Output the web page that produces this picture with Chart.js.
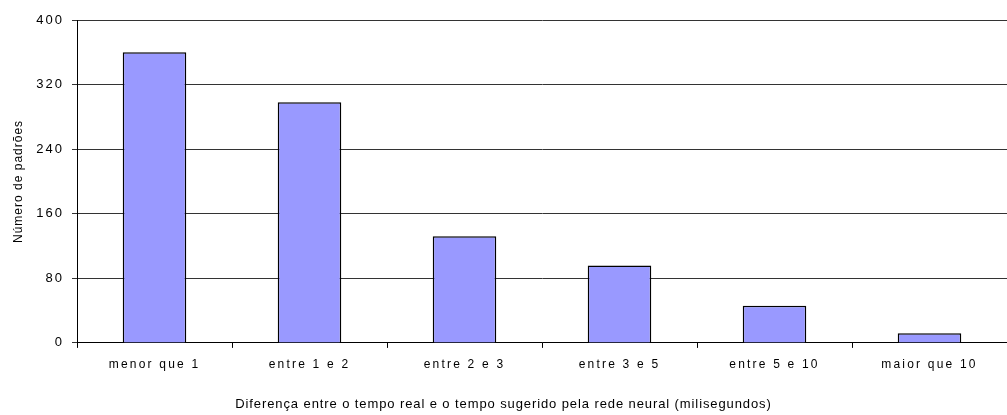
<!DOCTYPE html>
<html>
<head>
<meta charset="utf-8">
<script src="https://cdn.jsdelivr.net/npm/chart.js@4/dist/chart.umd.min.js"></script>
<style>
  html, body { margin: 0; padding: 0; background: #fff; }
  #wrap { width: 1007px; height: 415px; position: relative; }
</style>
</head>
<body>
<div id="wrap"><canvas id="c"></canvas></div>
<script>
const categories = ['menor que 1', 'entre 1 e 2', 'entre 2 e 3', 'entre 3 e 5', 'entre 5 e 10', 'maior que 10'];
const counts = [360, 298, 132, 96, 46, 12];
const yTicks = [0, 80, 160, 240, 320, 400];
const xTitle = 'Diferença entre o tempo real e o tempo sugerido pela rede neural (milisegundos)';
const yTitle = 'Número de padrões';

// letter spacing per text kind (the original rendering is widely spaced)
function spacingFor(t) {
  const s = String(t);
  if (categories.includes(s)) return '2.2px';
  if (s === xTitle) return '0.9px';
  if (s === yTitle) return '1px';
  if (yTicks.map(String).includes(s)) return '2px';
  return '0px';
}
const origFill = CanvasRenderingContext2D.prototype.fillText;
const origMeasure = CanvasRenderingContext2D.prototype.measureText;
CanvasRenderingContext2D.prototype.fillText = function (t, x, y, m) {
  const prev = this.letterSpacing;
  this.letterSpacing = spacingFor(t);
  if (m === undefined) origFill.call(this, t, x, y); else origFill.call(this, t, x, y, m);
  this.letterSpacing = prev;
};
CanvasRenderingContext2D.prototype.measureText = function (t) {
  const prev = this.letterSpacing;
  this.letterSpacing = spacingFor(t);
  const r = origMeasure.call(this, t);
  this.letterSpacing = prev;
  return r;
};

const FONT = "'Liberation Sans', Arial, sans-serif";

new Chart(document.getElementById('c'), {
  type: 'bar',
  data: {
    labels: categories,
    datasets: [{
      data: counts,
      backgroundColor: '#9999FF',
      borderColor: '#000000',
      borderWidth: 1.5,
      barPercentage: 0.41,
      categoryPercentage: 1.0
    }]
  },
  options: {
    responsive: true,
    maintainAspectRatio: false,
    animation: false,
    layout: { padding: { top: 20, right: 0, left: 0, bottom: 0 } },
    plugins: {
      legend: { display: false },
      tooltip: { enabled: false },
      title: {
        display: true, position: 'bottom', text: xTitle, color: '#000',
        font: { family: FONT, size: 13, weight: 'normal' },
        padding: { top: 4, bottom: 2.5 }
      }
    },
    scales: {
      x: {
        offset: true,
        grid: { display: true, drawOnChartArea: false, drawTicks: true, tickLength: 5, color: '#000', offset: true },
        border: { display: true, color: '#000', width: 1 },
        ticks: { color: '#000', font: { family: FONT, size: 12 }, padding: 10, maxRotation: 0, autoSkip: false },
        afterFit(scale) { scale.height = 50; }
      },
      y: {
        min: 0, max: 400,
        afterBuildTicks(scale) { scale.ticks = yTicks.map(v => ({ value: v })); },
        grid: { color: '#333', lineWidth: 1, drawTicks: true, tickLength: 5 },
        border: { display: true, color: '#000', width: 1 },
        ticks: { color: '#000', font: { family: FONT, size: 13 }, padding: 8 },
        title: { display: true, text: yTitle, color: '#000', font: { family: FONT, size: 12 }, padding: { top: 11, bottom: 0 } },
        afterFit(scale) { scale.width = 77; }
      }
    }
  }
});
</script>
</body>
</html>
